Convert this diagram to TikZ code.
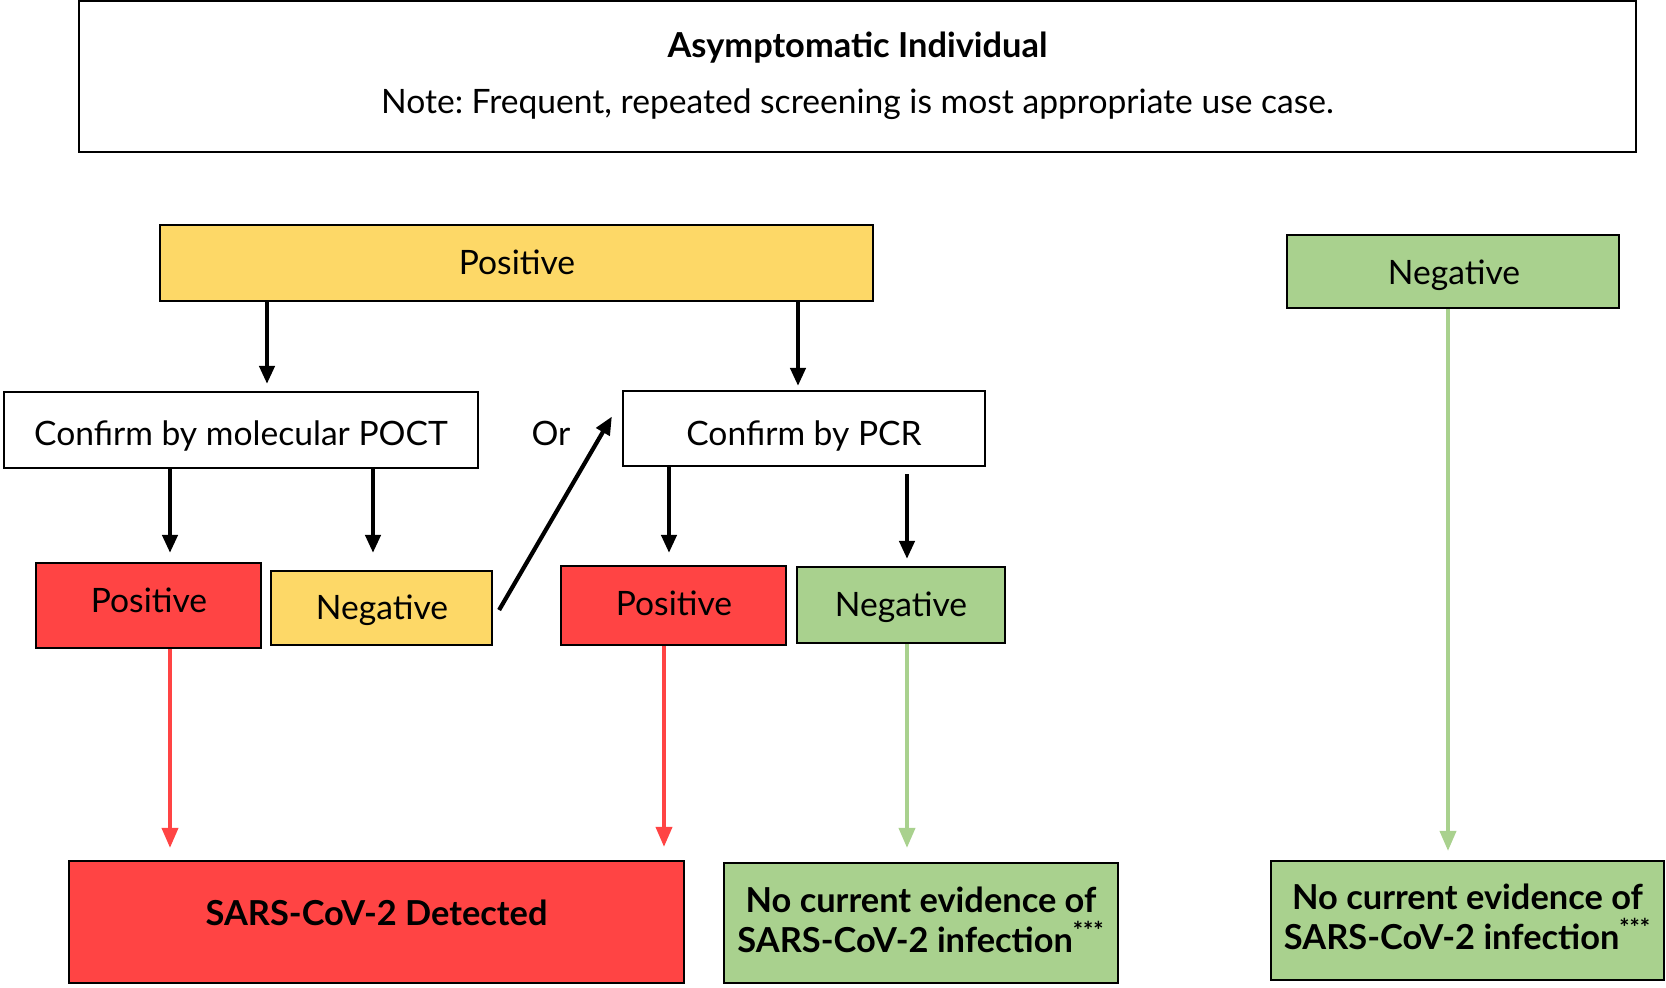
\documentclass[tikz,border=0pt]{standalone}
\usepackage{fontspec}
\setmainfont{Lato}
\frenchspacing
\usetikzlibrary{arrows.meta}
\definecolor{cred}{HTML}{FF4444}
\definecolor{cyel}{HTML}{FDD867}
\definecolor{cgrn}{HTML}{A9D18E}
\tikzset{
  box/.style={draw=black, line width=1.1pt, rectangle, inner sep=0pt, align=center},
  txt/.style={inner sep=0pt, align=center, text height=12pt, text depth=0pt, font=\fontsize{16.8}{20}\selectfont},
  btxt/.style={inner sep=0pt, align=center, text height=12pt, text depth=0pt, font=\bfseries\fontsize{17.2}{19.8}\selectfont},
  blk/.style={line width=2.1pt, -{Triangle[width=7.5pt,length=9pt]}},
  redarr/.style={draw=cred, line width=1.9pt, -{Triangle[width=8pt,length=10pt]}, cred},
  grnarr/.style={draw=cgrn, line width=1.9pt, -{Triangle[width=8pt,length=10pt]}, cgrn},
}
\begin{document}
\begin{tikzpicture}[x=0.5pt, y=-0.5pt]
\useasboundingbox (0,0) rectangle (1666,987);
% top box
\node[box, minimum width=778.5pt, minimum height=75.5pt] (top) at (857.5,76.5) {};
\node[btxt] (title) at (857.5,45) {Asymptomatic Individual};
\node[txt] (note) at (857.5,101) {Note: Frequent, repeated screening is most appropriate use case.};
% boxes
\node[box, fill=cyel, minimum width=356.5pt, minimum height=38pt] (pos) at (516.5,263) {};
\node[box, fill=cgrn, minimum width=166pt, minimum height=36.5pt] (negR) at (1453,271.5) {};
\node[box, minimum width=237pt, minimum height=38pt] (poct) at (241,430) {};
\node[box, minimum width=181pt, minimum height=37.5pt] (pcr) at (804,428.5) {};
\node[box, fill=cred, minimum width=112.5pt, minimum height=42.5pt] (pos1) at (148.5,605.5) {};
\node[box, fill=cyel, minimum width=110.5pt, minimum height=37pt] (neg1) at (381.5,608) {};
\node[box, fill=cred, minimum width=112.5pt, minimum height=39.5pt] (pos2) at (673.5,605.5) {};
\node[box, fill=cgrn, minimum width=104pt, minimum height=38pt] (neg2) at (901,605) {};
\node[box, fill=cred, minimum width=307.5pt, minimum height=61pt] (det) at (376.5,922) {};
\node[box, fill=cgrn, minimum width=197pt, minimum height=60pt] (nc1) at (921,923) {};
\node[box, fill=cgrn, minimum width=196.5pt, minimum height=59.5pt] (nc2) at (1467.5,920.5) {};
% texts
\node[txt] (tpos) at (517,262) {Positive};
\node[txt] (tnegR) at (1454,272) {Negative};
\node[txt] (tpoct) at (241,433) {Confirm by molecular POCT};
\node[txt] (or) at (551,433) {Or};
\node[txt] (tpcr) at (804,433) {Confirm by PCR};
\node[txt] (tpos1) at (149,600) {Positive};
\node[txt] (tneg1) at (382,607) {Negative};
\node[txt] (tpos2) at (674,603) {Positive};
\node[txt] (tneg2) at (901,604) {Negative};
\node[btxt] (tdet) at (376.5,913) {SARS-CoV-2 Detected};
\node[btxt] (tnc1) at (921,940) {No current evidence of\\SARS-CoV-2 infection\textsuperscript{***}};
\node[btxt] (tnc2) at (1467.5,937) {No current evidence of\\SARS-CoV-2 infection\textsuperscript{***}};
% x positions
\coordinate (xa) at (267,0);
\coordinate (xb) at (798,0);
\coordinate (xc) at (170,0);
\coordinate (xd) at (373,0);
\coordinate (xe) at (669,0);
\coordinate (xf) at (907,0);
\coordinate (xg) at (664,0);
\coordinate (xh) at (1448,0);
% black arrows
\draw[blk] ([yshift=1pt]pos.south -| xa) -- ([yshift=3.5pt]poct.north -| xa);
\draw[blk] (pos.south -| xb) -- ([yshift=2pt]pcr.north -| xb);
\draw[blk] (poct.south -| xc) -- ([yshift=4.5pt]pos1.north -| xc);
\draw[blk] (poct.south -| xd) -- ([yshift=8.5pt]neg1.north -| xd);
\draw[blk] (pcr.south -| xe) -- ([yshift=6pt]pos2.north -| xe);
\draw[blk] ([yshift=-3.5pt]pcr.south -| xf) -- ([yshift=3.5pt]neg2.north -| xf);
\draw[blk] ([xshift=3pt,yshift=-1pt]neg1.east) -- ([xshift=-5pt,yshift=6pt]pcr.west);
% coloured arrows
\draw[redarr] (pos1.south -| xc) -- ([yshift=6pt]det.north -| xc);
\draw[redarr] (pos2.south -| xg) -- ([yshift=6.5pt]det.north -| xg);
\draw[grnarr] (neg2.south -| xf) -- ([yshift=7pt]nc1.north -| xf);
\draw[grnarr] (negR.south -| xh) -- ([yshift=4.5pt]nc2.north -| xh);
\end{tikzpicture}
\end{document}
